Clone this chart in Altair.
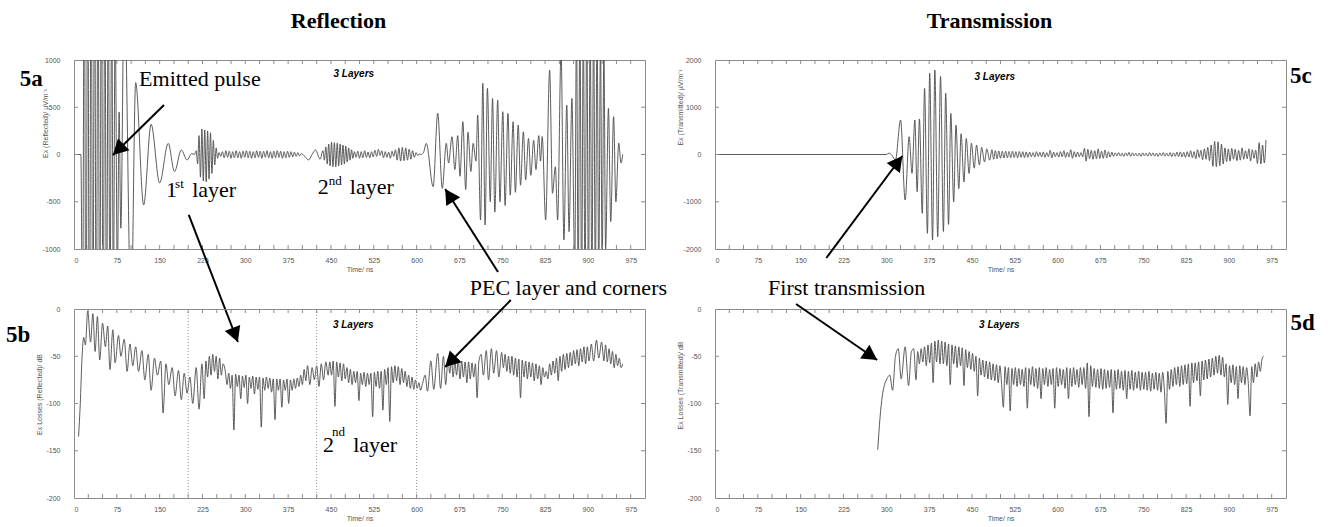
import altair as alt
import pandas as pd

# ---------------- tick / label values ----------------
X_LABELS = [0, 75, 150, 225, 300, 375, 450, 525, 600, 675, 750, 825, 900, 975]
X_MINOR = [25, 50, 75, 100, 125, 150, 175, 200, 225, 250, 275, 300, 325, 350, 375, 400, 425, 450,
           475, 500, 525, 550, 575, 600, 625, 650, 675, 700, 725, 750, 775, 800, 825, 850, 875, 900,
           925, 950, 975]
Y_REFL = [-1000, -500, 0, 500, 1000]
Y_TRANS = [-2000, -1000, 0, 1000, 2000]
Y_DB = [-200, -150, -100, -50, 0]
LAYER_LINES = [200, 425, 600]


def seg(t0, dt, vals):
    # sampling instants of a read-off stretch of extrema (values typed below)
    return [(round(t0 + i * dt, 2), v) for i, v in enumerate(vals)]


# ---------------- 5a : reflected field (µV/m) ----------------
a_pulse = [(0, 0), (12, 0), (15, -2000), (18, 2400), (21, -2600), (24, 2600), (27, -2700), (30, 2600),
           (33, -2500), (36, 2500), (39, -2400), (42, 2400), (45, -2300), (48, 2200), (51, -2200),
           (54, 2100), (57, -2000), (60, 1900), (63, -1800), (66, 1700), (69, -1600), (72, 1500),
           (76, -1300), (79, 450), (82, -780), (88, 1800), (100, -1700), (108, 760), (122, -534),
           (135, 320), (150, -300), (165, 118), (176, -182), (188, 48), (198, -58), (206, 10), (211, 0)]
a_burst1 = [40, -100, 200, -240, 270, -280, 260, -290, 250, -260, 230, -200, 150, -110, 70, -40, 20]
a_wig1 = [-20, 30, -35, 40, -30, 35, -40, 30, -35, 40, -35, 30, -40, 35, -30, 40, -35, 35, -40, 30,
          -35, 40, -30, 35, -40, 35, -30, 40, -35, 30, -40, 35, -35, 40, -30, 35, -40, 30, -35, 35,
          -30, 30, -25, 25, -20, 20, -15, 10]
a_slow = [(404, -20), (411, -58), (417, 0), (423, 48), (431, -50)]
a_burst2 = [40, -60, 80, -100, 110, -120, 130, -130, 125, -130, 120, -120, 110, -110, 100, -100, 90,
            -80, 70, -60, 50, -40, 30]
a_wig2 = [-30, 35, -40, 30, -35, 40, -30, 25, -35, 30, -25, 45, -20, 55, -10, 40, -35, 30, -30, 25,
          -40, 35, -20, 50, -60, 70, -70, 75, -65, 70, -60, 55, -50, 40, -30, 20, -10, 5, 0]
a_pec = [(612, 20), (617, 118), (629, -340), (637, 436), (645, -358), (652, 118), (656, -90),
         (662, 188), (667, -160), (672, 200), (676, -230), (681, 347), (686, -370), (690, 236),
         (695, -180), (699, 118), (704, -70), (707, 418), (712, -693), (716, 753), (720, -746),
         (724, 700), (729, -500), (733, 594), (737, -610), (742, 576), (746, -500), (751, 453),
         (755, -540), (760, 435), (764, -430), (769, 347), (773, -400), (778, 312), (782, -325),
         (787, 240), (791, -270), (796, 170), (800, -220), (805, 150), (809, -160), (814, 200),
         (817, -70), (820, 190), (826, -693), (833, 894), (838, -410), (843, -130), (847, -693),
         (853, 1100), (858, -905), (863, 523), (867, -817), (872, 594), (877, -1200)]
a_clip = [1400, -1400, 1500, -1500, 1400, -1500, 1500, -1400, 1400, -1500, 1500, -1400, 1400, -1300,
          1200, -1200, 1100, -1000]
a_end = [(936, 488), (940, -710), (945, 400), (949, -500), (954, 120), (958, -90), (961, 0)]

A_POINTS = (a_pulse + seg(214, 2.5, a_burst1) + seg(257, 3, a_wig1) + a_slow + seg(436, 2.5, a_burst2)
            + seg(494, 3, a_wig2) + a_pec + seg(880, 3, a_clip) + a_end)

# ---------------- 5c : transmitted field (µV/m) ----------------
c_main = [(0, 0), (300, 0), (305, 30), (310, -20), (316, -116), (325, 730), (333, -963), (340, 377),
          (345, -398), (350, 730), (354, -787), (358, 750), (363, -1245), (367, 1400), (372, -1668),
          (376, 1718), (381, -1810), (385, 1788), (390, -1740), (395, 1650), (400, -1630), (404, 1300),
          (409, -1480), (413, 870), (418, -1000), (422, 620), (427, -720), (431, 440), (436, -580),
          (440, 340), (445, -400), (449, 240), (454, -290), (458, 200), (463, -220), (467, 150),
          (472, -160), (476, 120), (481, -120)]
c_b1 = [100, -100, 80, -90, 75, -80, 70, -75, 70, -70, 65, -70, 70, -65, 60, -70, 65, -60, 60, -65, 55, -60]
c_b2 = [50, -45, 40, -55, 60, -40, 45, -50, 55, -60, 40, -45, 90, -70, 50, -45, 40, -55, 60, -50, 80,
        -65, 45, -50, 100, -80, 60, -55, 50, -45, 40, -50]
c_b3 = [130, -140, 110, -90]
c_b4 = [90, -100, 80, -90, 120, -85, 70, -80, 95, -70, 60, -55, 50]
c_b5 = [-40, 35, -30, 40, -35, 30, -40, 35, -30, 45, -40, 35, -30, 25, -35, 30, -40, 35, -30, 30, -35,
        40, -30, 35, -35, 30, -40, 35, -30, 40, -35, 30, -35, 40, -45, 35, -40, 50, -45, 55, -50, 45, -60]
c_b6 = [60, -50, 80, -70, 60, -90, 100, -60, 90, -110, 120, -100, 150, -130, 200]
c_b7 = [-250, 280, -260, 270, -240, 220, -200]
c_b8 = [140, -150, 120, -140, 130, -100, 110, -130, 90, -120, 140, -100, 80, -90, 120, -140, 100, -80, 90]
c_b9 = [-190, 250, -200, 200, -180, 307]

C_POINTS = (c_main + seg(485, 3, c_b1) + seg(551, 3, c_b2) + seg(647, 3, c_b3) + seg(659, 3, c_b4)
            + seg(698, 3, c_b5) + seg(827, 3, c_b6) + seg(872, 3, c_b7) + seg(893, 3, c_b8)
            + seg(950, 3, c_b9))

# ---------------- 5b : reflected losses (dB) ----------------
b_rise = [(8, -135), (11, -100), (14, -52), (17, -30), (20, -38), (24, -2)]
b_arch = [(29, -35), (33, -5), (37, -45), (41, -8), (45, -54), (50, -15), (55, -40), (59, -18),
          (63, -64), (68, -22), (72, -57), (78, -28), (82, -50), (88, -32), (93, -66), (98, -37),
          (103, -60), (108, -40), (113, -66), (119, -44), (124, -75), (130, -48), (135, -86), (141, -52),
          (146, -70), (152, -55), (156, -110), (161, -58), (166, -80), (172, -62), (177, -92), (183, -65),
          (188, -96), (193, -68), (198, -89), (203, -72), (208, -100), (214, -62), (219, -106),
          (224, -58), (228, -95)]
b_band1 = [-55, -72, -50, -70, -48, -66, -50, -74, -52, -70, -58]
b_band2 = [-66, -80, -68, -84, -70, -128, -69, -82, -70, -95, -71, -83, -70, -100, -72, -84, -71, -90,
           -72, -85, -72, -125, -73, -86, -72, -84, -73, -88, -74, -117, -74, -86, -74, -104, -75, -86,
           -74, -100, -75, -86, -74, -84, -73, -82, -70, -80]
b_mid = [(403, -64), (406, -76), (409, -60), (413, -80), (417, -62), (421, -75), (425, -60),
         (429, -82), (433, -58), (437, -75), (441, -56), (445, -70)]
b_band3 = [-56, -70, -55, -103, -56, -72, -57, -76, -58, -74, -62, -78, -64, -80, -66, -78, -66, -97,
           -68, -80, -67, -82, -68, -80, -68, -114, -67, -82, -66, -84, -66, -107, -64, -80, -62, -119,
           -61, -78, -60, -76, -61, -80, -63, -78, -66, -82, -70, -84, -72, -85, -75, -84, -78, -86, -80]
b_sc = [(615, -70), (619, -87), (625, -55), (630, -85), (637, -47), (642, -84), (647, -50), (651, -80),
        (655, -53)]
b_band4 = [-68, -54, -72, -55, -70, -53, -74, -55, -72, -56, -78, -56, -74, -57, -72, -58, -94, -56]
b_arch2 = [(713, -48), (717, -70), (722, -44), (726, -75), (731, -42), (735, -68), (740, -44),
           (744, -72), (749, -46)]
b_band5 = [-62, -48, -66, -50, -68, -50, -70, -52, -72, -53, -94, -54, -72, -55, -74, -56, -72, -57,
           -76, -58, -74, -60, -80, -62, -72, -66, -74]
b_band6 = [-58, -70, -55, -68, -52, -76, -50, -66, -48, -64, -47, -62, -46, -60, -44, -58, -43, -60,
           -42, -56, -40, -58, -40, -55]
b_arch3 = [(906, -37), (910, -55), (915, -33), (919, -52), (924, -35), (928, -55)]
b_end = [-38, -56, -42, -58, -45, -62, -48, -60, -52, -62, -58]

B_POINTS = (b_rise + b_arch + seg(231, 3, b_band1) + seg(265, 3, b_band2) + b_mid + seg(448, 3, b_band3)
            + b_sc + seg(658, 3, b_band4) + b_arch2 + seg(752, 3, b_band5) + seg(833, 3, b_band6)
            + b_arch3 + seg(931, 3, b_end))

# ---------------- 5d : transmitted losses (dB) ----------------
d_start = [(285, -149), (289, -115), (293, -92), (297, -80), (301, -74), (306, -70), (311, -86),
           (316, -50), (321, -42), (326, -74), (333, -40), (339, -81), (344, -45), (348, -42), (352, -75)]
d1 = [-45, -58, -42, -56, -40, -60, -38, -57, -36, -78, -34, -56, -33, -58, -34]
d2 = [-58, -35, -60, -37, -80, -38, -58, -39, -62, -40, -60, -41, -81, -43, -62, -45, -64, -47, -66, -50]
d3 = [-92, -52, -70, -54, -72, -55, -74, -56, -75, -58, -76, -59, -78, -60, -80, -104, -61, -80]
d4 = [-62, -108, -63, -80, -62, -82, -63, -80, -64, -82, -62, -105, -63, -80, -61, -82, -63, -84, -62,
      -95, -63, -80, -62, -82, -64, -80, -63, -105, -62, -82, -63, -80, -64, -84, -62, -95, -63, -82,
      -62, -80, -64, -83, -62]
d5 = [-80, -62, -84, -57, -114, -60]
d6 = [-82, -63, -83, -64, -84, -63, -85, -64, -84, -65, -83, -64, -110, -65, -85, -64, -84, -66, -86,
      -65, -95, -66, -85, -65, -86, -67, -84, -66, -86, -67, -85]
d7 = [-67, -86, -66, -87, -68, -85, -67, -86, -68, -88, -67, -86, -121, -66, -85, -64]
d8 = [-82, -62, -80, -61, -82, -60, -80, -59, -79, -58, -103, -57, -78, -57, -76, -56, -92, -55, -75,
      -54, -74, -53, -72, -52]
d9 = [-70, -50, -68, -49, -70, -51, -72]
d10 = [-58, -101, -60, -78, -59, -80, -61, -95, -60, -78, -61, -80, -62, -79, -113, -61]
d11 = [-78, -58, -72, -56, -66, -53, -50]

D_POINTS = (d_start + seg(355, 3, d1) + seg(400, 3, d2) + seg(460, 3, d3) + seg(514, 3, d4)
            + seg(643, 3, d5) + seg(661, 3, d6) + seg(754, 3, d7) + seg(802, 3, d8) + seg(874, 3, d9)
            + seg(895, 3, d10) + seg(943, 3, d11))

# ---------------- annotations (panel data coordinates) ----------------
# (t, value, text)
A_PANEL = [(-75, 800, "5a")]
A_BIG = [(114, 800, "Emitted pulse"), (161, -376, "1"), (207, -376, "layer"), (427, -344, "2"),
         (483, -344, "layer"), (693, -1413, "PEC layer and corners")]
A_SUP = [(177, -310, "st"), (446, -280, "nd")]
A_LAYERS = [(490, 852, "3 Layers")]
A_ARROWS = [(157.6, 524, 68.3, -5, 225.6), (201, -640, 287, -1984, 158.9), (742.6, -1243, 650, -365, 327.4)]

B_PANEL = [(-98, -27, "5b")]
B_BIG = [(436, -144, "2"), (489, -144, "layer")]
B_SUP = [(452, -130, "nd")]
B_LAYERS = [(489, -17, "3 Layers")]
B_ARROWS = [(765, 9.5, 650, -61.4, 224.6)]

C_PANEL = [(1026, 1651, "5c")]
C_BIG = [(93, -2825, "First transmission")]
C_LAYERS = [(490, 1647, "3 Layers")]
C_ARROWS = [(195, -2190, 328, -32, 36.7)]

D_PANEL = [(1029, -15, "5d")]
D_LAYERS = [(498, -17, "3 Layers")]
D_ARROWS = [(142, 5.3, 284, -54, 124.3)]

FRAME = "#8c8c8c"
LINE = "#4a4a4a"
W, H = 571, 189
SERIF = "Liberation Serif"
SANS = "Liberation Sans"
HEAD = "M0,0L0.55,1L-0.55,1Z"


def panel(points, ydom, yvals, ytitle, ttx, tty, panel_lbl, big, sup, layers_lbl, arrows,
          dotted=None, title=None):
    xs = alt.Scale(domain=[0, 1000], nice=False, zero=False)
    ys = alt.Scale(domain=ydom, nice=False, zero=False)
    df = pd.DataFrame(points, columns=["t", "v"]).sort_values("t")
    X = alt.X("t:Q", scale=xs, axis=alt.Axis(values=X_LABELS, title="Time/ ns", labelPadding=7,
                                             titlePadding=2))
    Y = alt.Y("v:Q", scale=ys, axis=alt.Axis(values=yvals, title=ytitle, labelPadding=14, titleX=ttx,
                                             titleY=tty, titleAngle=270, titleBaseline="middle",
                                             titleAlign="center", labelExpr="'' + datum.value"))
    lay = [alt.Chart(df).mark_line(color=LINE, strokeWidth=0.9, interpolate="monotone", clip=True)
           .encode(x=X, y=Y)]

    def xx(f="t"):
        return alt.X(f + ":Q", scale=xs)

    def yy(f="v"):
        return alt.Y(f + ":Q", scale=ys)

    if dotted:
        lay.append(alt.Chart(pd.DataFrame({"t": dotted})).mark_rule(color="#999999", strokeWidth=1,
                                                                    strokeDash=[1, 2])
                   .encode(x=xx()))
    tx = pd.DataFrame({"t": X_MINOR})
    lay.append(alt.Chart(tx).mark_rule(color=FRAME, strokeWidth=1)
               .encode(x=xx(), y=alt.value(0), y2=alt.value(4)))
    lay.append(alt.Chart(tx).mark_rule(color=FRAME, strokeWidth=1)
               .encode(x=xx(), y=alt.value(H - 4), y2=alt.value(H)))
    ty = pd.DataFrame({"v": yvals[1:-1]})
    lay.append(alt.Chart(ty).mark_rule(color=FRAME, strokeWidth=1)
               .encode(y=yy(), x=alt.value(0), x2=alt.value(4)))
    lay.append(alt.Chart(ty).mark_rule(color=FRAME, strokeWidth=1)
               .encode(y=yy(), x=alt.value(W - 4), x2=alt.value(W)))

    def txt(rows, **style):
        d = pd.DataFrame(rows, columns=["t", "v", "label"])
        return alt.Chart(d).mark_text(clip=False, baseline="middle", color="black", **style).encode(
            x=xx(), y=yy(), text="label:N")

    lay.append(txt(panel_lbl, font=SERIF, fontSize=23, fontWeight="bold", align="center"))
    if big:
        lay.append(txt(big, font=SERIF, fontSize=22, align="left"))
    if sup:
        lay.append(txt(sup, font=SERIF, fontSize=13, align="left"))
    lay.append(txt(layers_lbl, font=SANS, fontSize=10, fontWeight="bold", fontStyle="italic",
                   align="center"))
    if arrows:
        ad = pd.DataFrame(arrows, columns=["t", "v", "t2", "v2", "ang"])
        lay.append(alt.Chart(ad).mark_rule(color="black", strokeWidth=2, clip=False)
                   .encode(x=xx(), y=yy(), x2="t2:Q", y2="v2:Q"))
        lay.append(alt.Chart(ad).mark_point(shape=HEAD, filled=True, size=900, color="black", opacity=1,
                                            strokeWidth=0, clip=False)
                   .encode(x=xx("t2"), y=yy("v2"), angle=alt.Angle("ang:Q", scale=None)))
    ch = alt.layer(*lay).properties(width=W, height=H)
    if title is not None:
        ch = ch.properties(title=title)
    return ch


def ttl(text, dx):
    return alt.TitleParams(text, font=SERIF, fontSize=22, fontWeight="bold", color="black",
                           anchor="middle", dx=dx, offset=23)


pa = panel(A_POINTS, [-1000, 1000], Y_REFL, "Ex (Reflected)/ \u00b5V/m\u207b\u00b9", -29, 63,
           A_PANEL, A_BIG, A_SUP, A_LAYERS, A_ARROWS, title=ttl("Reflection", -21))
pc = panel(C_POINTS, [-2000, 2000], Y_TRANS, "Ex (Transmitted)/ \u00b5V/m\u207b\u00b9", -35, 47,
           C_PANEL, C_BIG, None, C_LAYERS, C_ARROWS, title=ttl("Transmission", -11))
pb = panel(B_POINTS, [-200, 0], Y_DB, "Ex Losses (Reflected)/ dB", -35, 85,
           B_PANEL, B_BIG, B_SUP, B_LAYERS, B_ARROWS, dotted=LAYER_LINES)
pd_ = panel(D_POINTS, [-200, 0], Y_DB, "Ex Losses (Transmitted)/ dB", -35, 76,
            D_PANEL, None, None, D_LAYERS, D_ARROWS)

chart = (
    alt.concat(pa, pc, pb, pd_, columns=2, spacing={"row": 60, "column": 70}, bounds="flush")
    .properties(padding={"left": 5, "top": 9, "right": 0, "bottom": 0}, background="white")
    .configure_view(stroke=FRAME, strokeWidth=1)
    .configure_axis(labelFont=SANS, labelFontSize=7, labelColor="#555555", titleFont=SANS,
                    titleFontSize=7, titleFontWeight="normal", titleColor="#555555", domain=False,
                    ticks=False, grid=False)
)

chart.save("out.html", embed_options={"renderer": "svg", "actions": False})
